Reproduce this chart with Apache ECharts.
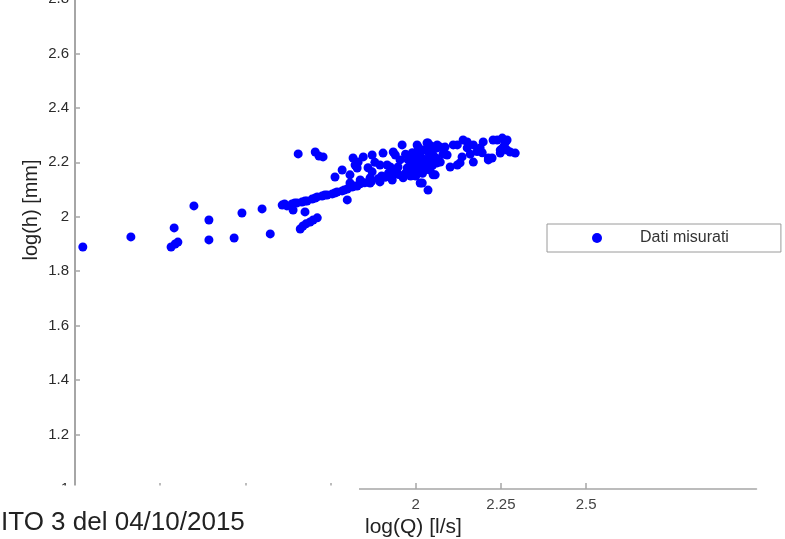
<!DOCTYPE html>
<html>
<head>
<meta charset="utf-8">
<script src="https://cdn.jsdelivr.net/npm/echarts@6/dist/echarts.min.js"></script>
<style>html,body{margin:0;padding:0;background:#fff;}#c{width:785px;height:539px;}</style>
</head>
<body>
<div id="c"></div>
<script>
// Measured data: log(Q) [l/s] and log(h) [mm]
const logQ = [
  1.023,1.164,1.291,1.282,1.294,1.302,1.349,1.393,1.393,1.467,1.490,1.549,1.573,
  1.608,1.622,1.637,1.652,1.666,1.681,1.696,1.711,1.725,1.740,1.755,1.769,1.784,1.799,1.813,1.828,1.837,
  1.615,1.645,1.675,1.705,1.733,1.762,1.790,1.820,
  1.640,1.675,
  1.661,1.669,1.678,1.690,1.699,1.711,
  1.655,1.705,1.716,1.728,
  1.799,
  1.763,1.784,1.807,1.816,1.831,1.846,1.822,1.828,
  1.837,1.807,1.866,1.866,1.872,1.872,1.895,1.895,1.904,1.916,1.925,1.931,1.934,1.940,1.948,1.954,1.960,1.963,1.975,1.978,1.992,
  2.004,2.007,2.004,2.013,2.013,2.019,2.022,2.022,2.033,2.036,2.036,
  2.042,2.051,2.051,2.051,2.063,2.063,2.063,2.072,2.072,2.057,2.086,2.092,2.101,2.110,2.122,2.122,2.130,2.136,2.139,2.151,2.151,2.169,2.169,2.189,2.198,2.213,2.213,2.224,2.227,2.239,2.254,2.262,2.268,2.257,2.248,2.248,2.268,2.277,2.292,
  1.985,1.995,2.000,2.010,2.025,2.030,2.040,2.045,2.015,1.990,1.970,2.000,2.020,1.985,
  2.160,2.180,2.195,
  1.985,2.005,2.015,2.030,2.040,2.050,1.995,2.010,2.025,2.060,2.080,2.045,
  1.880,1.860,1.900,1.920,1.940,1.850,1.870,1.890,1.910,1.930,1.950,1.970
];
const logH = [
  1.889,1.926,1.959,1.889,1.900,1.907,2.040,1.988,1.915,1.922,2.014,2.029,1.937,
  2.043,2.040,2.047,2.051,2.054,2.058,2.065,2.073,2.076,2.080,2.084,2.091,2.095,2.102,2.109,2.113,2.121,
  2.047,2.051,2.058,2.069,2.080,2.087,2.098,2.113,
  2.025,2.018,
  1.955,1.966,1.974,1.981,1.988,1.996,
  2.231,2.238,2.223,2.220,
  2.062,
  2.146,2.172,2.154,2.216,2.201,2.220,2.190,2.179,
  2.135,2.124,2.143,2.124,2.227,2.165,2.128,2.190,2.234,2.190,2.183,2.135,2.238,2.227,2.183,2.209,2.264,2.143,2.179,2.209,2.161,
  2.264,2.256,2.216,2.223,2.124,2.124,2.179,2.201,2.271,2.271,2.098,
  2.172,2.154,2.220,2.227,2.198,2.253,2.264,2.256,2.201,2.154,2.256,2.227,2.183,2.264,2.264,2.190,2.198,2.220,2.282,2.275,2.253,2.264,2.201,2.253,2.275,2.216,2.209,2.216,2.282,2.282,2.289,2.271,2.282,2.256,2.234,2.245,2.245,2.238,2.234,
  2.190,2.200,2.180,2.195,2.210,2.190,2.230,2.240,2.240,2.235,2.230,2.150,2.160,2.150,
  2.230,2.240,2.235,
  2.175,2.170,2.185,2.175,2.200,2.190,2.225,2.250,2.245,2.215,2.230,2.260,
  2.200,2.180,2.150,2.160,2.170,2.125,2.130,2.140,2.145,2.150,2.155,2.160
];
const xTickValues = [1.25, 1.5, 1.75, 2, 2.25, 2.5];
const xTickLabels = ['2', '2.25', '2.5'];
const seriesName = 'Dati misurati';
const xAxisTitle = 'log(Q) [l/s]';
const yAxisTitle = 'log(h) [mm]';
const caption = 'ITO 3 del 04/10/2015';

const points = logQ.map((q, i) => [q, logH[i]]);
const FONT = '"Liberation Sans", Arial, Helvetica, sans-serif';
const AXIS_GREY = '#a6a6a6';

const chart = echarts.init(document.getElementById('c'), null, {renderer: 'canvas'});
chart.setOption({
  backgroundColor: '#ffffff',
  animation: false,
  grid: {left: 75, right: 28.5, top: -1, bottom: 50, outerBoundsMode: 'none', containLabel: false},
  legend: {
    data: [{name: seriesName, icon: 'circle'}],
    left: 547, top: 224,
    padding: [6, 52, 6, 45],
    itemWidth: 10, itemHeight: 10,
    borderColor: '#9a9a9a', borderWidth: 1, borderRadius: 0,
    backgroundColor: '#fff',
    textStyle: {fontFamily: FONT, fontSize: 16, color: '#333', padding: [0, 0, 0, 33]}
  },
  xAxis: {
    type: 'value', min: 1, max: 3, interval: 0.25,
    axisLine: {show: true, onZero: false, lineStyle: {color: AXIS_GREY, width: 1.5}},
    axisTick: {show: true, inside: true, length: 6, customValues: xTickValues, lineStyle: {color: AXIS_GREY, width: 1.5}},
    splitLine: {show: false},
    axisLabel: {
      margin: 8, fontFamily: FONT, fontSize: 15, color: '#444',
      showMinLabel: true, showMaxLabel: true,
      formatter: function (v) {
        const s = String(Math.round(v * 100) / 100);
        return xTickLabels.indexOf(s) >= 0 ? s : '';
      }
    }
  },
  yAxis: {
    type: 'value', min: 1, max: 2.8, interval: 0.2,
    axisLine: {show: true, onZero: false, lineStyle: {color: AXIS_GREY, width: 2}},
    axisTick: {show: true, inside: true, length: 5, lineStyle: {color: AXIS_GREY, width: 1.5}},
    splitLine: {show: false},
    axisLabel: {
      margin: 6, fontFamily: FONT, fontSize: 15, color: '#2b2b2b',
      showMinLabel: true, showMaxLabel: true,
      verticalAlignMaxLabel: 'middle', verticalAlignMinLabel: 'middle',
      verticalAlign: 'middle',
      formatter: function (v) { return String(Math.round(v * 10) / 10); }
    }
  },
  series: [{
    name: seriesName,
    type: 'scatter',
    data: points,
    symbol: 'circle',
    symbolSize: 9,
    itemStyle: {color: '#0000ff', opacity: 1},
    emphasis: {disabled: true}
  }],
  graphic: [
    {type: 'rect', z: 100, shape: {x: 0, y: 485.5, width: 359, height: 60}, style: {fill: '#ffffff'}},
    {type: 'text', z: 101, x: 1, y: 523,
      style: {text: caption, fontFamily: FONT, fontSize: 26, fill: '#222', textAlign: 'left', textVerticalAlign: 'middle'}},
    {type: 'text', z: 101, x: 365, y: 527,
      style: {text: xAxisTitle, fontFamily: FONT, fontSize: 21, fill: '#222', textAlign: 'left', textVerticalAlign: 'middle'}},
    {type: 'text', z: 101, x: 31, y: 210, rotation: Math.PI / 2,
      style: {text: yAxisTitle, fontFamily: FONT, fontSize: 20, fill: '#222', textAlign: 'center', textVerticalAlign: 'middle'}}
  ]
});
</script>
</body>
</html>
